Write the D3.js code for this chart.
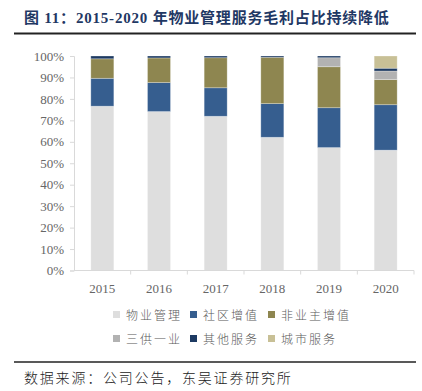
<!DOCTYPE html>
<html><head><meta charset="utf-8">
<script src="https://cdn.jsdelivr.net/npm/d3@7"></script>
<style>body{margin:0;background:#fff}</style>
</head><body><svg id="c" width="422" height="391"></svg>
<script>
const years = ["2015","2016","2017","2018","2019","2020"];
const seriesNames = ["物业管理","社区增值","非业主增值","三供一业","其他服务","城市服务"];
const wuye   = [76.6, 74.1, 71.9, 62.1, 57.3, 56.1];
const shequ  = [13.0, 13.5, 13.3, 15.7, 18.6, 21.2];
const feiye  = [9.1, 11.5, 14.0, 21.6, 19.1, 11.7];
const sangong= [0, 0, 0, 0, 4.2, 4.0];
const qita   = [1.3, 0.9, 0.8, 0.6, 0.8, 1.3];
const chengshi=[0, 0, 0, 0, 0, 5.7];
const yTicks = [0,10,20,30,40,50,60,70,80,90,100];
const colors = ["#dedede","#365e8f","#8e8650","#b2b2b2","#1d3a62","#c8c096"];

(function(){
const seriesVals = [wuye, shequ, feiye, sangong, qita, chengshi];
const rows = years.map((yr,i)=>{const o={year:yr}; seriesNames.forEach((n,k)=>o[n]=seriesVals[k][i]); return o;});
const stack = d3.stack().keys(seriesNames)(rows);

const svg = d3.select("#c");
const pL=74, pR=414, pT=56, pB=270.5;
const xb = d3.scaleBand().domain(years).range([pL,pR]);
const y = d3.scaleLinear().domain([0,100]).range([pB,pT]);

// title
svg.append("text").attr("x",24).attr("y",23).attr("fill","#1f3864")
  .attr("font-family","'Liberation Serif','Noto Sans CJK SC',serif").attr("font-weight","bold").attr("font-size",15)
  .attr("letter-spacing",0.8)
  .text("图 11：2015-2020 年物业管理服务毛利占比持续降低");
svg.append("line").attr("x1",14).attr("x2",416).attr("y1",33.5).attr("y2",33.5).attr("stroke","#222").attr("stroke-width",2);

// bars
svg.append("g").selectAll("g").data(stack).join("g").attr("fill",(d,i)=>colors[i])
  .selectAll("rect").data(d=>d).join("rect")
  .attr("x",d=>xb(d.data.year)+xb.bandwidth()/2-11.5).attr("width",23)
  .attr("y",d=>y(d[1])).attr("height",d=>Math.max(0,y(d[0])-y(d[1])))
  .attr("stroke",d=>(d[1]-d[0])>0?"rgba(255,255,255,0.35)":"none").attr("stroke-width",0.8);

// y axis
const ya = svg.append("g").attr("transform",`translate(${pL},0)`)
  .call(d3.axisLeft(y).tickValues(yTicks).tickFormat(d=>d+"%").tickSize(4).tickPadding(6));
ya.select(".domain").attr("stroke","#d9d9d9");
ya.selectAll(".tick line").attr("stroke","#d9d9d9");
ya.selectAll("text").attr("fill","#666").attr("font-family","'Liberation Serif',serif").attr("font-size",13);

// x axis
const xa = svg.append("g").attr("transform",`translate(0,${pB})`)
  .call(d3.axisBottom(xb).tickSize(0).tickPadding(13));
xa.select(".domain").attr("stroke","#d9d9d9").attr("d",`M${pL},0H${pR}`);
xa.selectAll("text").attr("fill","#666").attr("font-family","'Liberation Serif',serif").attr("font-size",13);
svg.append("g").selectAll("line").data(years.slice(1).concat(["end"])).join("line")
  .attr("x1",d=>d==="end"?pR:xb(d)).attr("x2",d=>d==="end"?pR:xb(d))
  .attr("y1",pB).attr("y2",pB+4).attr("stroke","#d9d9d9");

// legend
const legX=[116,193,271], legY=[315,339];
const lg = svg.append("g");
seriesNames.forEach((n,i)=>{
  const cx=legX[i%3], cy=legY[Math.floor(i/3)];
  lg.append("rect").attr("x",cx-3).attr("y",cy-4).attr("width",7).attr("height",7).attr("fill",colors[i]);
  lg.append("text").attr("x",cx+10).attr("y",cy+4.5).attr("fill","#595959")
    .attr("font-family","'Noto Sans CJK SC',sans-serif").attr("font-size",12).attr("letter-spacing",2).attr("font-weight",300).text(n);
});

// source
svg.append("line").attr("x1",14).attr("x2",416).attr("y1",362).attr("y2",362).attr("stroke","#222").attr("stroke-width",1.5);
svg.append("text").attr("x",24).attr("y",383).attr("fill","#222")
  .attr("font-family","'Noto Sans CJK SC',sans-serif").attr("font-size",14).attr("font-weight",300).attr("letter-spacing",1.8)
  .text("数据来源：公司公告，东吴证券研究所");
})();
</script></body></html>
